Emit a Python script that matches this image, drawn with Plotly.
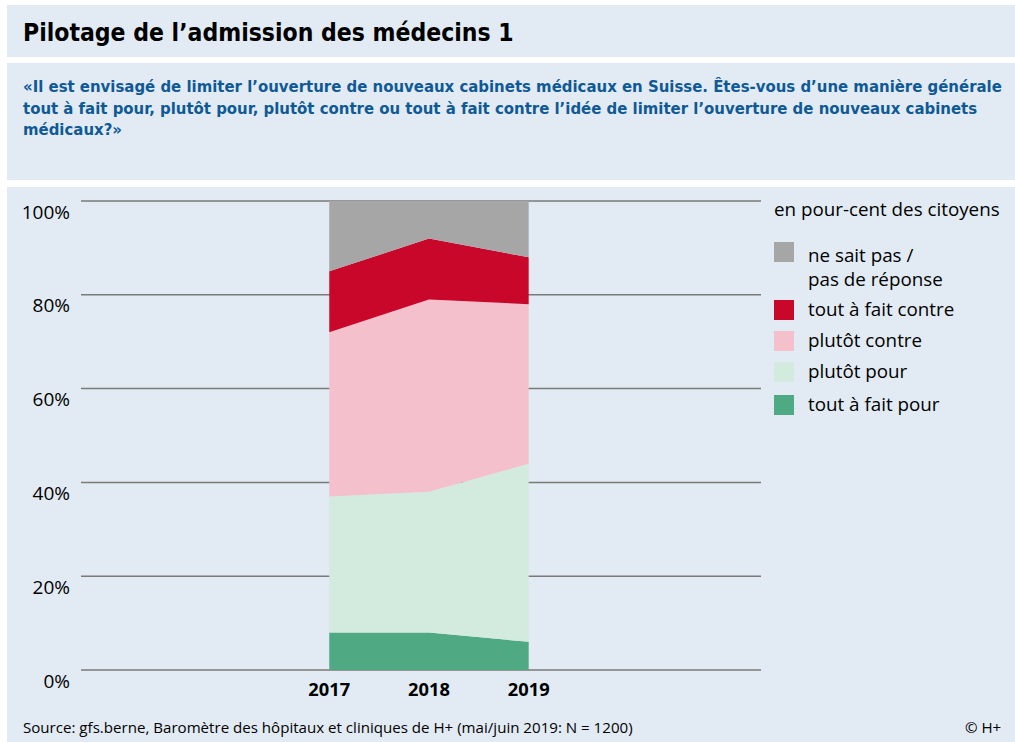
import plotly.graph_objects as go

years = [2017, 2018, 2019]
series_names = ["tout à fait pour", "plutôt pour", "plutôt contre", "tout à fait contre", "ne sait pas /<br>pas de réponse"]
tout_pour = [8, 8, 6]
plutot_pour = [29, 30, 38]
plutot_contre = [35, 41, 34]
tout_contre = [13, 13, 10]
ne_sait_pas = [15, 8, 12]
series_values = [tout_pour, plutot_pour, plutot_contre, tout_contre, ne_sait_pas]
colors = ["#4fa983", "#d3eadf", "#f4c0cb", "#c8072a", "#a6a6a6"]
y_ticks = [0, 20, 40, 60, 80, 100]
y_tick_labels = ["0%", "20%", "40%", "60%", "80%", "100%"]

W, H = 1015, 742
L, R, T, B = 81, 761, 199, 672
PAD = 0.4264
BG = "#e2ebf3"
BODY = "Open Sans, Noto Sans, sans-serif"
COND = "Liberation Sans Narrow, DejaVu Sans Condensed, sans-serif"

def px(x):
    return (x - L) / (R - L)

def py(y):
    return (B - y) / (B - T)

fig = go.Figure()
for name, vals, col in zip(series_names, series_values, colors):
    fig.add_trace(go.Scatter(x=years, y=vals, name=name, stackgroup="one",
                             mode="none", fillcolor=col, showlegend=False))

shapes = []
for (x0, y0, x1, y1) in [(7, 5, 1015, 57), (7, 63, 1015, 180), (7, 187, 1015, 742)]:
    shapes.append(dict(type="rect", xref="paper", yref="paper", x0=px(x0), x1=px(x1),
                       y0=py(y1), y1=py(y0), fillcolor=BG, line=dict(width=0), layer="below"))
# horizontal grid lines at the tick values
for v in y_ticks:
    shapes.append(dict(type="line", xref="paper", yref="y", x0=0, x1=1, y0=v, y1=v,
                       line=dict(color="#7a7a7a", width=1.5), layer="below"))

annotations = []
annotations.append(dict(text="<b>Pilotage de l’admission des médecins 1</b>", xref="paper", yref="paper",
                        x=px(21), y=py(32), xanchor="left", yanchor="middle", showarrow=False,
                        font=dict(family=COND, size=24.5, color="#000000")))
question = ("<b>«Il est envisagé de limiter l’ouverture de nouveaux cabinets médicaux en Suisse. Êtes-vous d’une manière générale<br>"
            "tout à fait pour, plutôt pour, plutôt contre ou tout à fait contre l’idée de limiter l’ouverture de nouveaux cabinets<br>"
            "médicaux?»</b>")
annotations.append(dict(text=question, xref="paper", yref="paper", x=px(21), y=py(75),
                        xanchor="left", yanchor="top", align="left", showarrow=False,
                        font=dict(family=COND, size=16.6, color="#0f5a96")))
annotations.append(dict(text="Source: gfs.berne, Baromètre des hôpitaux et cliniques de H+ (mai/juin 2019: N = 1200)",
                        xref="paper", yref="paper", x=px(21), y=py(727), xanchor="left", yanchor="middle",
                        showarrow=False, font=dict(family=BODY, size=15.1, color="#000000")))
annotations.append(dict(text="© H+", xref="paper", yref="paper", x=px(1003), y=py(727), xanchor="right",
                        yanchor="middle", showarrow=False, font=dict(family=BODY, size=15.1, color="#000000")))

# legend
annotations.append(dict(text="en pour-cent des citoyens", xref="paper", yref="paper", x=px(772), y=py(209),
                        xanchor="left", yanchor="middle", showarrow=False,
                        font=dict(family=BODY, size=18.8, color="#000000")))
legend_order = [4, 3, 2, 1, 0]
legend_y = [252, 310, 341, 372, 405]
for idx, yc in zip(legend_order, legend_y):
    shapes.append(dict(type="rect", xref="paper", yref="paper", x0=px(774), x1=px(794),
                       y0=py(yc + 10), y1=py(yc - 10), fillcolor=colors[idx], line=dict(width=0)))
    if idx == 4:
        annotations.append(dict(text="ne sait pas /<br>pas de réponse", xref="paper", yref="paper",
                                x=px(806), y=py(240), xanchor="left", yanchor="top", align="left",
                                showarrow=False, font=dict(family=BODY, size=18.8, color="#000000")))
    else:
        annotations.append(dict(text=series_names[idx], xref="paper", yref="paper", x=px(806), y=py(yc - 1),
                                xanchor="left", yanchor="middle", showarrow=False,
                                font=dict(family=BODY, size=18.8, color="#000000")))

fig.update_layout(
    width=W, height=H,
    margin=dict(l=L, r=W - R, t=T, b=H - B, pad=0),
    paper_bgcolor="#ffffff", plot_bgcolor="rgba(0,0,0,0)",
    shapes=shapes, annotations=annotations, showlegend=False,
    xaxis=dict(range=[2014.51, 2021.33], tickvals=years, ticktext=[f"<b>{y}</b>" for y in years],
               showgrid=False, zeroline=False, showline=False, ticks="",
               tickfont=dict(family=BODY, size=18.3, color="#000000"), ticklabelstandoff=5,
               fixedrange=True),
    yaxis=dict(range=[-PAD, 100 + PAD], tickvals=y_ticks, ticktext=y_tick_labels, showgrid=False,
               zeroline=False, showline=False, ticks="",
               tickfont=dict(family=BODY, size=19, color="#000000"), ticklabelstandoff=10,
               ticklabelshift=11, fixedrange=True),
)

fig.write_html("out.html", config={"displayModeBar": False},
               post_script="document.body.style.margin='0px';")
